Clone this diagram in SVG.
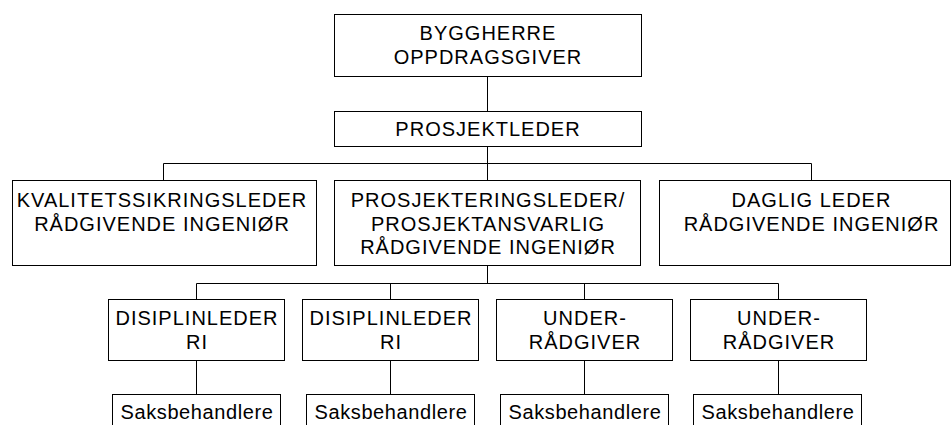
<svg xmlns="http://www.w3.org/2000/svg" width="952" height="425" viewBox="0 0 952 425">
<style>
  rect { fill: #fff; stroke: #000; stroke-width: 1; }
  .c line { stroke: #000; stroke-width: 1; }
  text { font-family: "Liberation Sans", Arial, sans-serif; font-size: 20px; fill: #000; text-anchor: middle; letter-spacing: 1px; }
  text.s { letter-spacing: 0.6px; }
</style>
<rect x="0" y="0" width="952" height="425" style="stroke:none;fill:#fff"/>
<g class="c" id="connectors">
  <line x1="487.5" y1="76.5" x2="487.5" y2="111.5"/>
  <line x1="487.5" y1="146.5" x2="487.5" y2="180.5"/>
  <line x1="163.5" y1="163.5" x2="811.5" y2="163.5"/>
  <line x1="163.5" y1="163.5" x2="163.5" y2="180.5"/>
  <line x1="811.5" y1="163.5" x2="811.5" y2="180.5"/>
  <line x1="487.5" y1="265.5" x2="487.5" y2="283.5"/>
  <line x1="196.5" y1="283.5" x2="778.5" y2="283.5"/>
  <line x1="196.5" y1="283.5" x2="196.5" y2="299.5"/>
  <line x1="390.5" y1="283.5" x2="390.5" y2="299.5"/>
  <line x1="584.5" y1="283.5" x2="584.5" y2="299.5"/>
  <line x1="778.5" y1="283.5" x2="778.5" y2="299.5"/>
  <line x1="196.5" y1="360.5" x2="196.5" y2="394.5"/>
  <line x1="390.5" y1="360.5" x2="390.5" y2="394.5"/>
  <line x1="584.5" y1="360.5" x2="584.5" y2="394.5"/>
  <line x1="778.5" y1="360.5" x2="778.5" y2="394.5"/>
</g>
<g id="byggherre">
  <rect x="334.5" y="14.5" width="307" height="62"/>
  <text x="488" y="40">BYGGHERRE</text>
  <text x="488" y="64">OPPDRAGSGIVER</text>
</g>
<g id="prosjektleder">
  <rect x="334.5" y="111.5" width="307" height="35"/>
  <text x="488" y="136">PROSJEKTLEDER</text>
</g>
<g id="kvalitet">
  <rect x="12.5" y="180.5" width="304" height="85"/>
  <text x="162" y="207">KVALITETSSIKRINGSLEDER</text>
  <text x="162" y="230.5">RÅDGIVENDE INGENIØR</text>
</g>
<g id="prosjektering">
  <rect x="334.5" y="180.5" width="306" height="85"/>
  <text x="488" y="207">PROSJEKTERINGSLEDER/</text>
  <text x="488" y="230.5">PROSJEKTANSVARLIG</text>
  <text x="488" y="254">RÅDGIVENDE INGENIØR</text>
</g>
<g id="daglig">
  <rect x="659.5" y="180.5" width="291" height="85"/>
  <text x="811.5" y="207">DAGLIG LEDER</text>
  <text x="811.5" y="230.5">RÅDGIVENDE INGENIØR</text>
</g>
<g id="disiplin1">
  <rect x="108.5" y="299.5" width="176" height="61"/>
  <text x="197" y="325">DISIPLINLEDER</text>
  <text x="197" y="348.5">RI</text>
</g>
<g id="disiplin2">
  <rect x="302.5" y="299.5" width="176" height="61"/>
  <text x="391" y="325">DISIPLINLEDER</text>
  <text x="391" y="348.5">RI</text>
</g>
<g id="under1">
  <rect x="496.5" y="299.5" width="176" height="61"/>
  <text x="585" y="325">UNDER-</text>
  <text x="585" y="348.5">RÅDGIVER</text>
</g>
<g id="under2">
  <rect x="690.5" y="299.5" width="176" height="61"/>
  <text x="779" y="325">UNDER-</text>
  <text x="779" y="348.5">RÅDGIVER</text>
</g>
<g id="saks1">
  <rect x="112.5" y="394.5" width="168" height="40"/>
  <text class="s" x="197" y="419">Saksbehandlere</text>
</g>
<g id="saks2">
  <rect x="306.5" y="394.5" width="168" height="40"/>
  <text class="s" x="391" y="419">Saksbehandlere</text>
</g>
<g id="saks3">
  <rect x="500.5" y="394.5" width="168" height="40"/>
  <text class="s" x="585" y="419">Saksbehandlere</text>
</g>
<g id="saks4">
  <rect x="693.5" y="394.5" width="168" height="40"/>
  <text class="s" x="778" y="419">Saksbehandlere</text>
</g>
</svg>
